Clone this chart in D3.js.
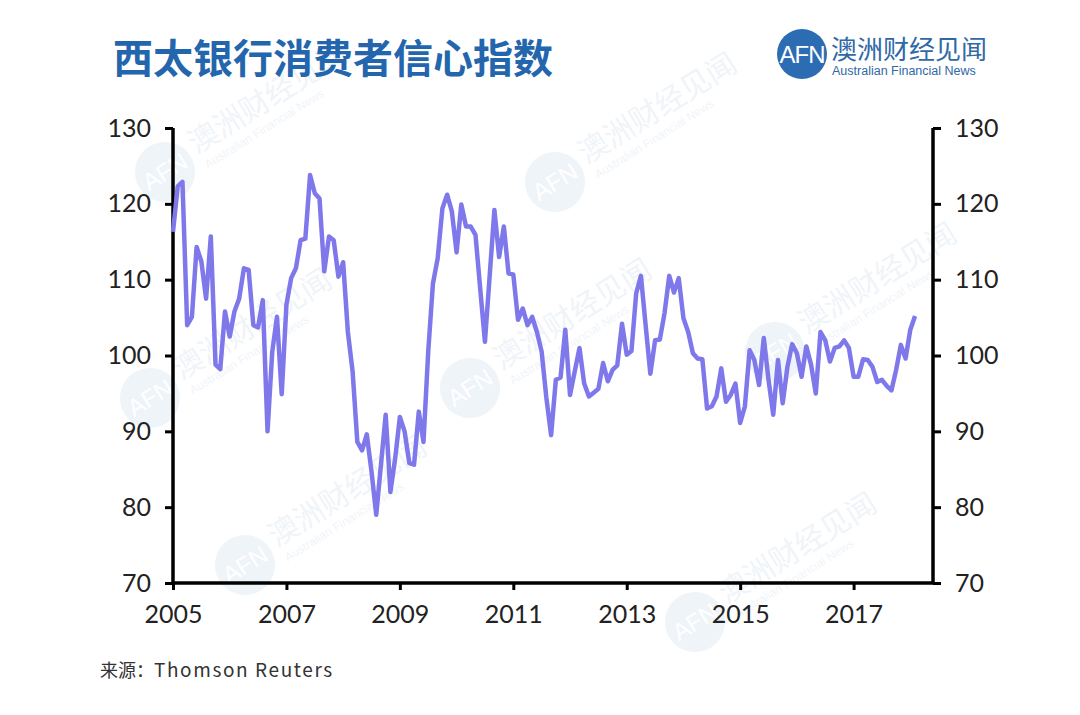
<!DOCTYPE html>
<html>
<head>
<meta charset="utf-8">
<script src="https://cdn.jsdelivr.net/npm/d3@7"></script>
<style>
  body { margin: 0; background: #fff; }
  svg text { font-family: "Noto Sans CJK SC", "Noto Sans", sans-serif; }
</style>
</head>
<body>
<div id="chart"></div>
<script>
// Westpac consumer sentiment, monthly from Jan 2005
var startYear = 2005;
var sentiment = [
  116.3, 122.3, 122.9, 104.0, 105.1, 114.3, 112.4, 107.5, 115.7, 98.8, 98.2, 105.8,
  102.5, 105.8, 107.5, 111.5, 111.3, 104.0, 103.7, 107.3, 90.0, 100.5, 105.1, 94.9,
  106.7, 110.2, 111.5, 115.2, 115.4, 123.8, 121.4, 120.7, 111.1, 115.7, 115.2, 110.4,
  112.3, 103.1, 97.9, 88.6, 87.5, 89.6, 84.7, 79.0, 85.6, 92.2, 82.0, 86.4,
  91.9, 90.0, 85.8, 85.6, 92.6, 88.6, 100.5, 109.5, 112.8, 119.4, 121.2, 119.0,
  113.6, 119.9, 117.0, 117.0, 115.9, 108.8, 101.8, 110.5, 119.2, 113.0, 117.0, 110.8,
  110.7, 104.7, 106.2, 104.0, 105.1, 103.1, 100.5, 94.4, 89.5, 96.8, 97.1, 103.4,
  94.8, 97.9, 101.0, 96.3, 94.6, 95.1, 95.6, 99.0, 96.6, 98.1, 98.7, 104.2,
  100.1, 100.6, 108.2, 110.5, 104.0, 97.6, 102.0, 102.1, 105.6, 110.5, 108.3, 110.2,
  104.9, 103.1, 100.3, 99.6, 99.5, 93.0, 93.3, 94.6, 98.3, 93.9, 94.8, 96.3,
  91.1, 93.3, 100.7, 99.4, 96.1, 102.3, 96.8, 92.2, 99.4, 93.7, 98.5, 101.5,
  100.3, 97.2, 101.2, 98.8, 95.0, 103.1, 102.0, 99.2, 101.0, 101.2, 102.0, 101.0,
  97.2, 97.2, 99.5, 99.4, 98.5, 96.5, 96.8, 96.0, 95.4, 98.1, 101.4, 99.6,
  103.4, 105.2
];
var yearTicks = [2005, 2007, 2009, 2011, 2013, 2015, 2017];
var valueTicks = [70, 80, 90, 100, 110, 120, 130];

var width = 1080, height = 715;
var plotLeft = 173, plotRight = 933, plotTop = 128, plotBottom = 583;

var svg = d3.select("#chart").append("svg")
  .attr("width", width)
  .attr("height", height);

svg.append("rect").attr("width", width).attr("height", height).attr("fill", "#fff");

// faint watermarks
var marks = [[165, 172], [555, 182], [470, 388], [775, 352], [150, 398], [245, 565], [695, 622]];
var wm = svg.selectAll("g.wm").data(marks).enter().append("g")
  .attr("class", "wm")
  .attr("transform", function (d) { return "translate(" + d[0] + "," + d[1] + ") rotate(-32)"; })
  .attr("opacity", 0.07);
wm.append("circle").attr("r", 30).attr("fill", "#2d6bb0");
wm.append("text").attr("x", 0).attr("y", 8).attr("text-anchor", "middle")
  .attr("fill", "#fff").style("font-size", "24px").style("font-family", "Arial, sans-serif").text("AFN");
wm.append("text").attr("x", 36).attr("y", 2).attr("fill", "#2d6bb0")
  .style("font-size", "30px").text("澳洲财经见闻");
wm.append("text").attr("x", 38).attr("y", 20).attr("fill", "#2d6bb0")
  .style("font-size", "12px").style("font-family", "Arial, sans-serif").text("Australian Financial News");

// title
svg.append("text")
  .attr("x", 113).attr("y", 73)
  .attr("fill", "#2466ad")
  .style("font-size", "40px").style("font-weight", "bold")
  .text("西太银行消费者信心指数");

// logo
var logo = svg.append("g");
logo.append("circle").attr("cx", 802).attr("cy", 54).attr("r", 25).attr("fill", "#2c6cb2");
logo.append("text").attr("x", 802).attr("y", 63).attr("text-anchor", "middle")
  .attr("fill", "#fff").style("font-size", "24px").style("font-family", "Arial, sans-serif")
  .style("letter-spacing", "-1px").text("AFN");
logo.append("text").attr("x", 831).attr("y", 59).attr("fill", "#2f69a6")
  .style("font-size", "26px").text("澳洲财经见闻");
logo.append("text").attr("x", 832).attr("y", 75).attr("fill", "#2f69a6")
  .style("font-size", "12.5px").style("font-family", "Arial, Liberation Sans, sans-serif")
  .text("Australian Financial News");

var x = d3.scaleLinear().domain([2005, 2018.4]).range([plotLeft, plotRight]);
var y = d3.scaleLinear().domain([70, 130]).range([plotBottom, plotTop]);

var tickFont = "Lato, 'Open Sans', sans-serif";

var yLeft = svg.append("g").attr("transform", "translate(" + plotLeft + ",0)")
  .call(d3.axisLeft(y).tickValues(valueTicks).tickSize(8).tickPadding(14));
var yRight = svg.append("g").attr("transform", "translate(" + plotRight + ",0)")
  .call(d3.axisRight(y).tickValues(valueTicks).tickSize(8).tickPadding(14));
var xAxis = svg.append("g").attr("transform", "translate(0," + plotBottom + ")")
  .call(d3.axisBottom(x).tickValues(yearTicks).tickFormat(d3.format("d")).tickSize(7).tickPadding(15));

[yLeft, yRight, xAxis].forEach(function (g) {
  g.select(".domain").attr("stroke", "#000").attr("stroke-width", 3.5);
  g.selectAll(".tick line").attr("stroke", "#000").attr("stroke-width", 3);
  g.selectAll("text").attr("fill", "#222").style("font-size", "25px").style("font-family", tickFont);
});
// plain domain lines without outer ticks
yLeft.select(".domain").attr("d", "M0," + plotTop + "V" + plotBottom);
yRight.select(".domain").attr("d", "M0," + plotTop + "V" + plotBottom);
xAxis.select(".domain").attr("d", "M" + plotLeft + ",0H" + plotRight);

// the line
var line = d3.line()
  .x(function (d, i) { return x(startYear + i / 12); })
  .y(function (d) { return y(d); });

svg.append("path")
  .datum(sentiment)
  .attr("d", line)
  .attr("fill", "none")
  .attr("stroke", "#7f78eb")
  .attr("stroke-width", 4.5)
  .attr("stroke-linejoin", "round");

// source
var src = svg.append("text")
  .attr("x", 100).attr("y", 677)
  .attr("fill", "#333")
  .style("font-size", "18px");
src.append("tspan").text("来源：");
src.append("tspan").style("font-size", "19px").style("letter-spacing", "1.6px").text("Thomson Reuters");
</script>
</body>
</html>
